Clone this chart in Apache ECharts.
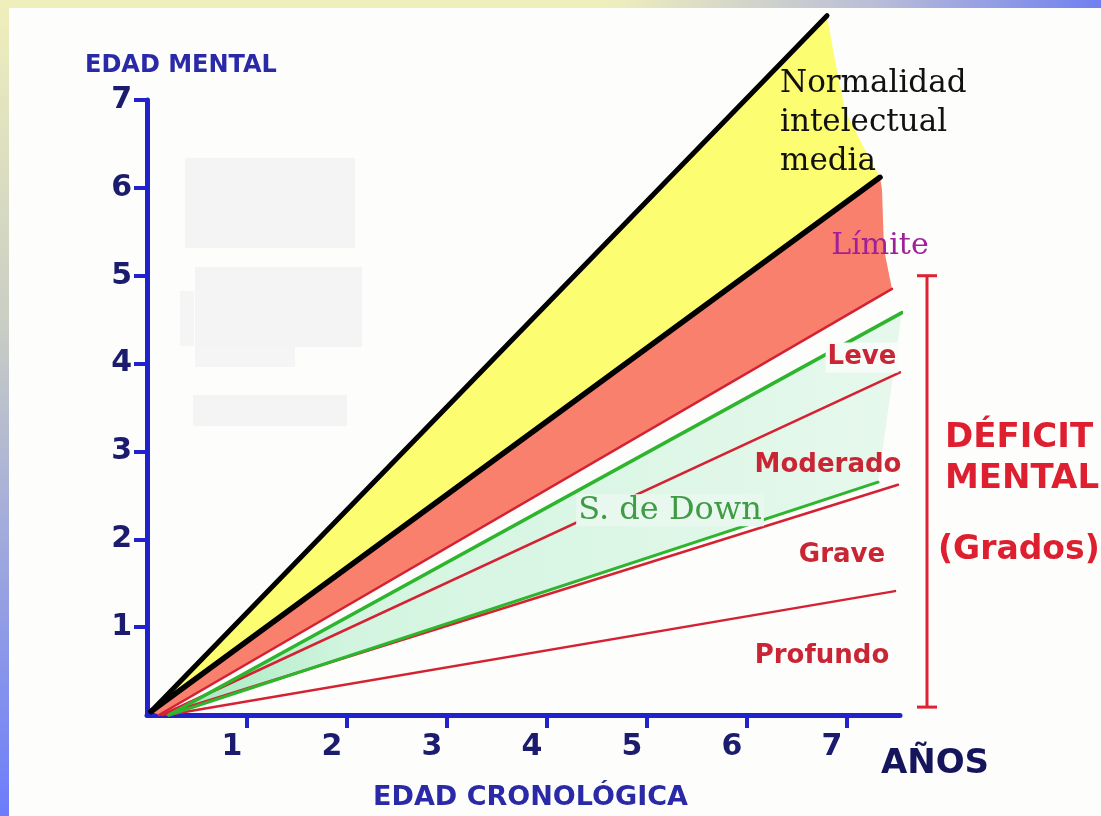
<!DOCTYPE html>
<html>
<head>
<meta charset="utf-8">
<script src="https://cdn.jsdelivr.net/npm/echarts@6/dist/echarts.min.js"></script>
<style>
  html, body { margin: 0; padding: 0; width: 1101px; height: 816px; overflow: hidden; }
  #frame { position: absolute; left: 0; top: 0; width: 1101px; height: 816px;
    background: linear-gradient(to bottom, #efefbc 0%, #c9cdc4 40%, #6c7cfb 100%); }
  #topbar { position: absolute; left: 0; top: 0; width: 1101px; height: 8px;
    background: linear-gradient(to right, #efefbc 0%, #efefbc 55%, #b8bcd8 80%, #6f80f0 100%); }
  #main { position: absolute; left: 9px; top: 8px; width: 1092px; height: 808px; background: #fdfdfb; }
</style>
</head>
<body>
<div id="frame"></div>
<div id="topbar"></div>
<div id="main"></div>
<script>
(function(){

	// datos: edad cronologica (x) frente a edad mental (y)
	var ticks = [1, 2, 3, 4, 5, 6, 7];

	var normalSup = [[0.04, 0.04], [6.80, 7.96]];
	var normalInf = [[0.04, 0.04], [7.33, 6.12]];
	var bordeAmarillo = [[6.80, 7.96], [6.88, 7.45], [6.98, 6.88], [7.18, 6.43], [7.33, 6.12]];
	var bordeLimite = [[7.33, 6.12], [7.35, 5.98], [7.37, 5.30], [7.45, 4.85]];
	var leve = [[0.12, 0], [7.45, 4.85]];
	var downSup = [[0.22, 0], [7.55, 4.58]];
	var moderado = [[0.15, 0], [7.53, 3.90]];
	var downInf = [[0.22, 0], [7.31, 2.65]];
	var grave = [[0.15, 0], [7.51, 2.62]];
	var profundo = [[0.20, 0], [7.48, 1.41]];
	var corchete = [[7.80, 0.09, 5.0]];

	// etiquetas: [x, y, texto]
	var etiquetas = [
		[6.33, 7.40, 'Normalidad\nintelectual\nmedia'],
		[7.33, 5.34, 'Límite'],
		[7.15, 4.07, 'Leve'],
		[6.81, 2.84, 'Moderado'],
		[5.23, 2.33, 'S. de Down'],
		[6.95, 1.82, 'Grave'],
		[6.75, 0.67, 'Profundo'],
		[7.98, 3.38, 'DÉFICIT\nMENTAL'],
		[7.91, 1.87, '(Grados)'],
		[7.88, -0.56, 'AÑOS'],
		[-0.62, 7.39, 'EDAD MENTAL']
	];

	var SANS = '"DejaVu Sans", Verdana, sans-serif';
	var SERIF = '"DejaVu Serif", serif';
	var estilos = {
		'Normalidad\nintelectual\nmedia': {font: '31px ' + SERIF, fill: '#111', align: 'left', verticalAlign: 'top', lineHeight: 39},
		'Límite': {font: '30px ' + SERIF, fill: '#a0209a'},
		'Leve': {font: 'bold 26px ' + SANS, fill: '#c92535', backgroundColor: '#f8fcf9', padding: [2, 2]},
		'Moderado': {font: 'bold 26px ' + SANS, fill: '#c92535'},
		'S. de Down': {font: '32px ' + SERIF, fill: '#3f9c45', backgroundColor: '#e8f8ee', padding: [0, 2]},
		'Grave': {font: 'bold 26px ' + SANS, fill: '#c92535'},
		'Profundo': {font: 'bold 26px ' + SANS, fill: '#c92535'},
		'DÉFICIT\nMENTAL': {font: 'bold 34px ' + SANS, fill: '#dd1f2f', align: 'left', verticalAlign: 'top', lineHeight: 41},
		'(Grados)': {font: 'bold 33px ' + SANS, fill: '#dd1f2f', align: 'left'},
		'AÑOS': {font: 'bold 34px ' + SANS, fill: '#15155c'},
		'EDAD MENTAL': {font: 'bold 24px ' + SANS, fill: '#2a2aa8', align: 'left'}
	};

	function poligono(puntos, color, z) {
		return {
			type: 'custom', coordinateSystem: 'cartesian2d', data: puntos, z: z, silent: true, clip: false,
			renderItem: function (params, api) {
				if (params.dataIndex !== 0) return;
				return {type: 'polygon', shape: {points: puntos.map(function (p) { return api.coord(p); })}, style: {fill: color}};
			}
		};
	}

	function linea(puntos, color, ancho) {
		return {
			type: 'line', data: puntos, symbol: 'none', clip: false, z: 5, silent: true,
			lineStyle: {color: color, width: ancho, cap: 'round'}
		};
	}

	var amarillo = normalSup.concat(bordeAmarillo.slice(1), normalInf.slice().reverse().slice(1));
	var salmon = normalInf.concat(bordeLimite.slice(1), leve.slice().reverse());
	var menta = downSup.concat(downInf.slice().reverse());
	var gradMenta = new echarts.graphic.LinearGradient(0, 0, 1, 0, [
		{offset: 0, color: '#9fe9bd'},
		{offset: 0.25, color: '#d3f5e0'},
		{offset: 1, color: '#e6f8ec'}
	]);

	var azul = '#2222cc';
	var myChart = echarts.init(document.getElementById('main'));
	var option = {
		animation: false,
		grid: {left: 138, top: 92, width: 753, height: 620},
		graphic: [
			{type: 'rect', shape: {x: 176, y: 150, width: 170, height: 90}, style: {fill: '#f4f4f4'}, z: -1},
			{type: 'rect', shape: {x: 186, y: 259, width: 167, height: 80}, style: {fill: '#f4f4f4'}, z: -1},
			{type: 'rect', shape: {x: 171, y: 283, width: 14, height: 55}, style: {fill: '#f5f5f5'}, z: -1},
			{type: 'rect', shape: {x: 186, y: 339, width: 100, height: 20}, style: {fill: '#f5f5f5'}, z: -1},
			{type: 'rect', shape: {x: 184, y: 387, width: 154, height: 31}, style: {fill: '#f4f4f4'}, z: -1}
		],
		xAxis: {
			type: 'value', min: 0, max: 7.53, interval: 1,
			name: 'EDAD CRONOLÓGICA', nameLocation: 'middle', nameGap: 69,
			nameTextStyle: {fontFamily: SANS, fontWeight: 'bold', fontSize: 27, color: '#2a2aa8', padding: [0, 0, 0, 14]},
			splitLine: {show: false},
			axisLine: {lineStyle: {color: azul, width: 5}},
			axisTick: {length: 13, lineStyle: {color: azul, width: 4}, customValues: ticks},
			axisLabel: {customValues: ticks, margin: 17, padding: [0, 30, 0, 0],
				fontFamily: SANS, fontWeight: 'bold', fontSize: 30, color: '#1c1c6e'}
		},
		yAxis: {
			type: 'value', min: 0, max: 7, interval: 1,
			splitLine: {show: false},
			axisLine: {lineStyle: {color: azul, width: 5}},
			axisTick: {length: 13, lineStyle: {color: azul, width: 4}, customValues: ticks},
			axisLabel: {customValues: ticks, margin: 15,
				fontFamily: SANS, fontWeight: 'bold', fontSize: 30, color: '#1c1c6e'}
		},
		series: [
			poligono(amarillo, '#fdfd72', 1),
			poligono(salmon, '#f9806c', 1),
			poligono(menta, gradMenta, 1),
			linea(leve, '#d42233', 2.5),
			linea(moderado, '#d42233', 2.5),
			linea(grave, '#d42233', 2.5),
			linea(profundo, '#d42233', 2.5),
			linea(downSup, '#2db52d', 3.5),
			linea(downInf, '#2db52d', 3),
			linea(normalInf, '#000', 5.5),
			linea(normalSup, '#000', 5),
			{
				type: 'custom', coordinateSystem: 'cartesian2d', data: corchete, z: 6, silent: true, clip: false,
				renderItem: function (params, api) {
					var a = api.coord([api.value(0), api.value(1)]);
					var b = api.coord([api.value(0), api.value(2)]);
					var st = {stroke: '#dd2233', lineWidth: 3};
					return {type: 'group', children: [
						{type: 'line', shape: {x1: a[0], y1: a[1], x2: b[0], y2: b[1]}, style: st},
						{type: 'line', shape: {x1: a[0] - 10, y1: a[1], x2: a[0] + 10, y2: a[1]}, style: st},
						{type: 'line', shape: {x1: b[0] - 10, y1: b[1], x2: b[0] + 10, y2: b[1]}, style: st}
					]};
				}
			},
			{
				type: 'custom', coordinateSystem: 'cartesian2d', data: etiquetas, z: 10, silent: true, clip: false,
				renderItem: function (params, api) {
					var e = etiquetas[params.dataIndex];
					var p = api.coord([e[0], e[1]]);
					var s = estilos[e[2]];
					return {type: 'text', x: p[0], y: p[1], style: {
						text: e[2], font: s.font, fill: s.fill,
						align: s.align || 'center', verticalAlign: s.verticalAlign || 'middle',
						lineHeight: s.lineHeight, backgroundColor: s.backgroundColor, padding: s.padding
					}};
				}
			}
		]
	};
	myChart.setOption(option);

})();
</script>
</body>
</html>
